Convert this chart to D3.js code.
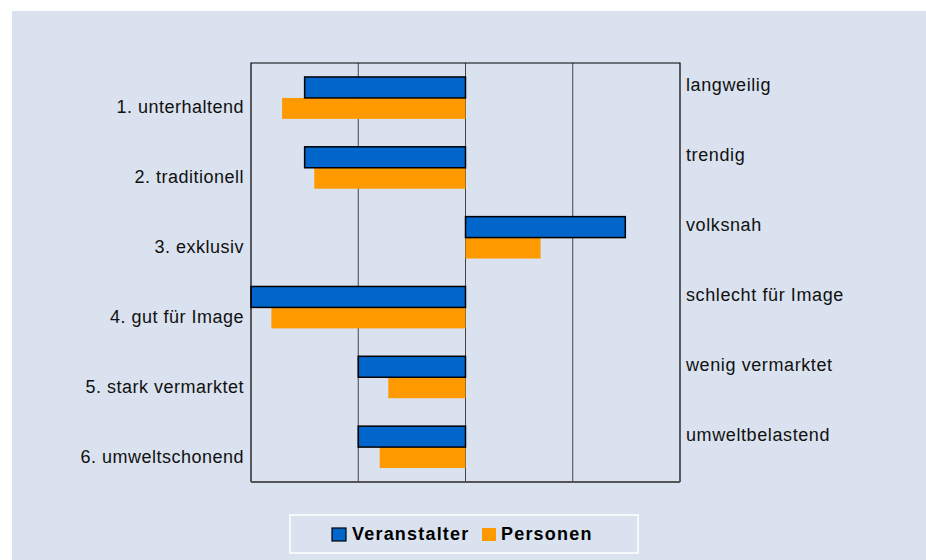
<!DOCTYPE html>
<html>
<head>
<meta charset="utf-8">
<script src="https://cdn.jsdelivr.net/npm/d3@7"></script>
<style>
  body { margin: 0; background: #fff; }
  svg { display: block; font-family: "Liberation Sans", Arial, Helvetica, sans-serif; }
</style>
</head>
<body>
<svg id="chart" width="926" height="560"></svg>
<script>
// Semantic differential: organisers vs. persons
const leftLabels = ['1. unterhaltend', '2. traditionell', '3. exklusiv', '4. gut für Image', '5. stark vermarktet', '6. umweltschonend'];
const rightLabels = ['langweilig', 'trendig', 'volksnah', 'schlecht für Image', 'wenig vermarktet', 'umweltbelastend'];
const veranstalter = [-1.5, -1.5, 1.49, -2.0, -1.0, -1.0];
const personen = [-1.71, -1.41, 0.70, -1.81, -0.72, -0.80];
const gridValues = [-1, 0, 1];
const seriesNames = ['Veranstalter', 'Personen'];

const colors = { Veranstalter: '#0066cc', Personen: '#ff9900' };
const bg = '#d9e2ee';

const svg = d3.select('#chart');

// background panel
svg.append('rect')
  .attr('x', 12).attr('y', 11)
  .attr('width', 914).attr('height', 549)
  .attr('fill', bg);

const plot = { left: 251, right: 680, top: 63, bottom: 482 };

const x = d3.scaleLinear().domain([-2, 2]).range([plot.left, plot.right]);
const y = d3.scaleBand()
  .domain(d3.range(leftLabels.length))
  .range([plot.top, plot.bottom])
  .paddingInner(0.4)
  .paddingOuter(0.2);
const ySub = d3.scaleBand().domain(seriesNames).range([0, y.bandwidth()]);

// gridlines
svg.append('g')
  .selectAll('line')
  .data(gridValues)
  .join('line')
  .attr('x1', d => x(d)).attr('x2', d => x(d))
  .attr('y1', plot.top).attr('y2', plot.bottom)
  .attr('stroke', '#444').attr('stroke-width', 1);

// bars
const rows = leftLabels.map((l, i) => ({ i, Veranstalter: veranstalter[i], Personen: personen[i] }));

svg.append('g')
  .selectAll('rect')
  .data(rows)
  .join('rect')
  .attr('x', d => x(Math.min(0, d.Personen)))
  .attr('y', d => y(d.i) + ySub('Personen'))
  .attr('width', d => Math.abs(x(d.Personen) - x(0)))
  .attr('height', ySub.bandwidth())
  .attr('fill', colors.Personen);

svg.append('g')
  .selectAll('rect')
  .data(rows)
  .join('rect')
  .attr('x', d => x(Math.min(0, d.Veranstalter)))
  .attr('y', d => y(d.i) + ySub('Veranstalter'))
  .attr('width', d => Math.abs(x(d.Veranstalter) - x(0)))
  .attr('height', ySub.bandwidth())
  .attr('fill', colors.Veranstalter)
  .attr('stroke', '#000')
  .attr('stroke-width', 1.5);

// plot frame
svg.append('path')
  .attr('d', `M${plot.left},${plot.bottom}V${plot.top}H${plot.right}V${plot.bottom}`)
  .attr('fill', 'none').attr('stroke', '#000').attr('stroke-width', 1.2);
svg.append('line')
  .attr('x1', plot.left).attr('x2', plot.right)
  .attr('y1', plot.bottom).attr('y2', plot.bottom)
  .attr('stroke', '#555').attr('stroke-width', 2);

// left labels (aligned with the lower bar)
svg.append('g')
  .selectAll('text')
  .data(leftLabels)
  .join('text')
  .attr('x', plot.left - 7)
  .attr('y', (d, i) => y(i) + ySub('Personen') + ySub.bandwidth() / 2 + 5)
  .attr('text-anchor', 'end')
  .attr('font-size', 18)
  .attr('letter-spacing', 0.5)
  .attr('fill', '#111')
  .text(d => d);

// right labels (aligned with the upper bar)
svg.append('g')
  .selectAll('text')
  .data(rightLabels)
  .join('text')
  .attr('x', plot.right + 6)
  .attr('y', (d, i) => y(i) + ySub('Veranstalter') + ySub.bandwidth() / 2 + 4)
  .attr('font-size', 18)
  .attr('letter-spacing', 0.6)
  .attr('fill', '#111')
  .text(d => d);

// legend
const legend = svg.append('g');
legend.append('rect')
  .attr('x', 290).attr('y', 515)
  .attr('width', 348).attr('height', 38)
  .attr('fill', 'none').attr('stroke', '#fff').attr('stroke-width', 1.5);

const legendItems = [
  { name: 'Veranstalter', sx: 332, tx: 352, stroke: '#000' },
  { name: 'Personen', sx: 482, tx: 501, stroke: 'none' }
];
legend.selectAll('rect.sw')
  .data(legendItems)
  .join('rect')
  .attr('class', 'sw')
  .attr('x', d => d.sx).attr('y', 528)
  .attr('width', 14).attr('height', 13)
  .attr('fill', d => colors[d.name])
  .attr('stroke', d => d.stroke).attr('stroke-width', 1.2);
legend.selectAll('text')
  .data(legendItems)
  .join('text')
  .attr('x', d => d.tx).attr('y', 540)
  .attr('font-size', 18)
  .attr('font-weight', 'bold')
  .attr('letter-spacing', 1.2)
  .attr('fill', '#000')
  .text(d => d.name);
</script>
</body>
</html>
